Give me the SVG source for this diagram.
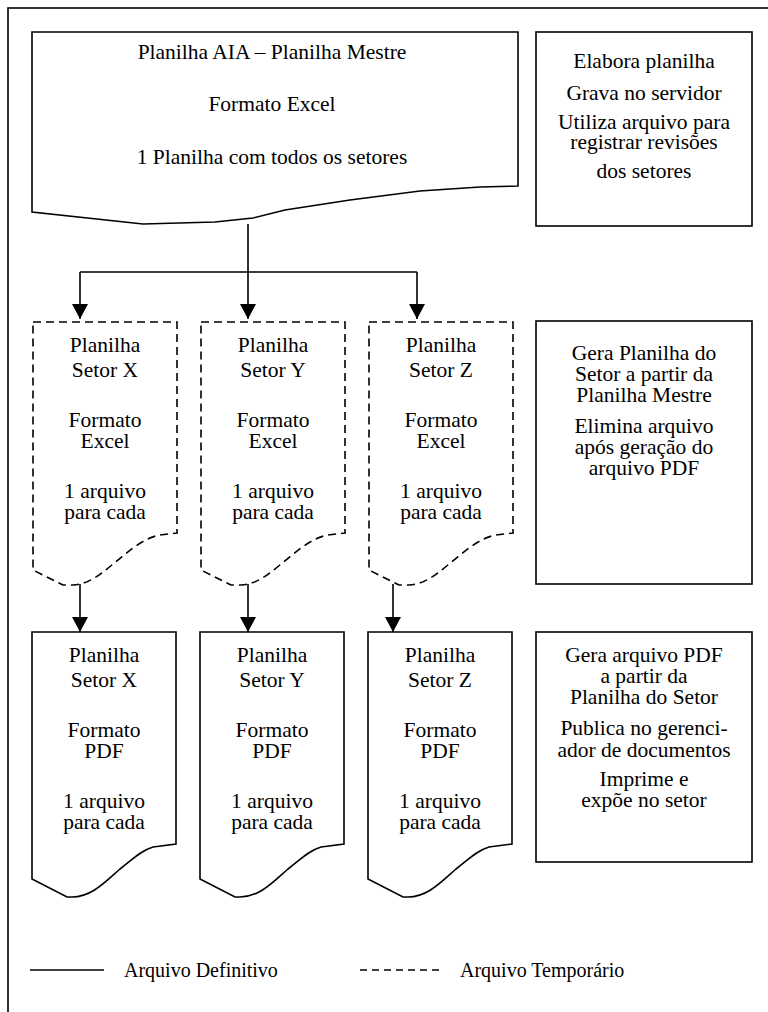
<svg xmlns="http://www.w3.org/2000/svg" width="768" height="1012" viewBox="0 0 768 1012" font-family="'Liberation Serif', Tinos, 'Times New Roman', 'DejaVu Serif', serif">
  <style>
    text { font-family: "Liberation Serif", Tinos, "Times New Roman", "DejaVu Serif", serif; font-size: 21.5px; fill: #000; text-anchor: middle; }
    .legend { font-size: 20px; text-anchor: start; }
    .solid { fill: #fff; stroke: #000; stroke-width: 1.6; }
    .dashed { fill: #fff; stroke: #000; stroke-width: 1.6; stroke-dasharray: 8 5; }
    .link { fill: none; stroke: #000; stroke-width: 1.6; }
  </style>
  <defs>
    <marker id="arrow" markerUnits="userSpaceOnUse" markerWidth="15" markerHeight="16" viewBox="0 0 15 16" refX="15" refY="8" orient="auto">
      <path d="M0,0 L15,8 L0,16 Z" fill="#000"/>
    </marker>
    <!-- document outlines: wavy bottom edge -->
    <path id="tempDoc" d="M0,0 H144 V211 L127,213 C110,216 95,230 80,242 C66,254 55,262 40,263 L30,263 L0,248 Z"/>
    <path id="finalDoc" d="M0,0 H144 V212 L121,215 C108,219 100,228 88,237 C74,249 60,265 40,265 L35,265 L0,247 Z"/>
  </defs>

  <rect width="768" height="1012" fill="#fff"/>
  <!-- outer frame -->
  <rect x="8" y="8" width="800" height="1050" fill="none" stroke="#000" stroke-width="1.6"/>

  <!-- master spreadsheet -->
  <g id="master">
    <path class="solid" d="M32,32 H518 V186 L480,187 L420,191 L350,200 L285,210 L253,218 L215,222 L143,224 L32,212 Z"/>
    <text x="272" y="59">Planilha AIA – Planilha Mestre</text>
    <text x="272" y="111">Formato Excel</text>
    <text x="272" y="164">1 Planilha com todos os setores</text>
  </g>

  <g id="note-master">
    <rect class="solid" x="536" y="32" width="216" height="194"/>
    <text x="644" y="68">Elabora planilha</text>
    <text x="644" y="100">Grava no servidor</text>
    <text x="644" y="129">Utiliza arquivo para</text>
    <text x="644" y="149">registrar revisões</text>
    <text x="644" y="178">dos setores</text>
  </g>

  <!-- temporary sector spreadsheets -->
  <g id="temp-x" transform="translate(33 322)">
    <use href="#tempDoc" class="dashed"/>
    <text x="72" y="30">Planilha</text>
    <text x="72" y="55">Setor X</text>
    <text x="72" y="105">Formato</text>
    <text x="72" y="126">Excel</text>
    <text x="72" y="176">1 arquivo</text>
    <text x="72" y="197">para cada</text>
  </g>
  <g id="temp-y" transform="translate(201 322)">
    <use href="#tempDoc" class="dashed"/>
    <text x="72" y="30">Planilha</text>
    <text x="72" y="55">Setor Y</text>
    <text x="72" y="105">Formato</text>
    <text x="72" y="126">Excel</text>
    <text x="72" y="176">1 arquivo</text>
    <text x="72" y="197">para cada</text>
  </g>
  <g id="temp-z" transform="translate(369 322)">
    <use href="#tempDoc" class="dashed"/>
    <text x="72" y="30">Planilha</text>
    <text x="72" y="55">Setor Z</text>
    <text x="72" y="105">Formato</text>
    <text x="72" y="126">Excel</text>
    <text x="72" y="176">1 arquivo</text>
    <text x="72" y="197">para cada</text>
  </g>

  <g id="note-temp">
    <rect class="solid" x="536" y="321" width="216" height="263"/>
    <text x="644" y="360">Gera Planilha do</text>
    <text x="644" y="381">Setor a partir da</text>
    <text x="644" y="402">Planilha Mestre</text>
    <text x="644" y="433">Elimina arquivo</text>
    <text x="644" y="454">após geração do</text>
    <text x="644" y="475">arquivo PDF</text>
  </g>

  <!-- final PDF files -->
  <g id="pdf-x" transform="translate(32 632)">
    <use href="#finalDoc" class="solid"/>
    <text x="72" y="30">Planilha</text>
    <text x="72" y="55">Setor X</text>
    <text x="72" y="105">Formato</text>
    <text x="72" y="126">PDF</text>
    <text x="72" y="176">1 arquivo</text>
    <text x="72" y="197">para cada</text>
  </g>
  <g id="pdf-y" transform="translate(200 632)">
    <use href="#finalDoc" class="solid"/>
    <text x="72" y="30">Planilha</text>
    <text x="72" y="55">Setor Y</text>
    <text x="72" y="105">Formato</text>
    <text x="72" y="126">PDF</text>
    <text x="72" y="176">1 arquivo</text>
    <text x="72" y="197">para cada</text>
  </g>
  <g id="pdf-z" transform="translate(368 632)">
    <use href="#finalDoc" class="solid"/>
    <text x="72" y="30">Planilha</text>
    <text x="72" y="55">Setor Z</text>
    <text x="72" y="105">Formato</text>
    <text x="72" y="126">PDF</text>
    <text x="72" y="176">1 arquivo</text>
    <text x="72" y="197">para cada</text>
  </g>

  <g id="note-pdf">
    <rect class="solid" x="536" y="632" width="216" height="230"/>
    <text x="644" y="662">Gera arquivo PDF</text>
    <text x="644" y="683">a partir da</text>
    <text x="644" y="704">Planilha do Setor</text>
    <text x="644" y="735">Publica no gerenci-</text>
    <text x="644" y="757">ador de documentos</text>
    <text x="644" y="786">Imprime e</text>
    <text x="644" y="807">expõe no setor</text>
  </g>

  <!-- connectors -->
  <g id="connectors">
    <path class="link" d="M248,224 V272 M80,272 H417"/>
    <path class="link" d="M80,272 V319" marker-end="url(#arrow)"/>
    <path class="link" d="M248,272 V319" marker-end="url(#arrow)"/>
    <path class="link" d="M417,272 V319" marker-end="url(#arrow)"/>
    <path class="link" d="M80,584 V632" marker-end="url(#arrow)"/>
    <path class="link" d="M248,584 V632" marker-end="url(#arrow)"/>
    <path class="link" d="M393,584 V632" marker-end="url(#arrow)"/>
  </g>

  <!-- legend -->
  <g id="legend">
    <line x1="30" y1="970" x2="104" y2="970" stroke="#000" stroke-width="1.6"/>
    <text class="legend" x="124" y="977">Arquivo Definitivo</text>
    <line x1="360" y1="970" x2="440" y2="970" stroke="#000" stroke-width="1.6" stroke-dasharray="7 5"/>
    <text class="legend" x="460" y="977">Arquivo Temporário</text>
  </g>
</svg>
